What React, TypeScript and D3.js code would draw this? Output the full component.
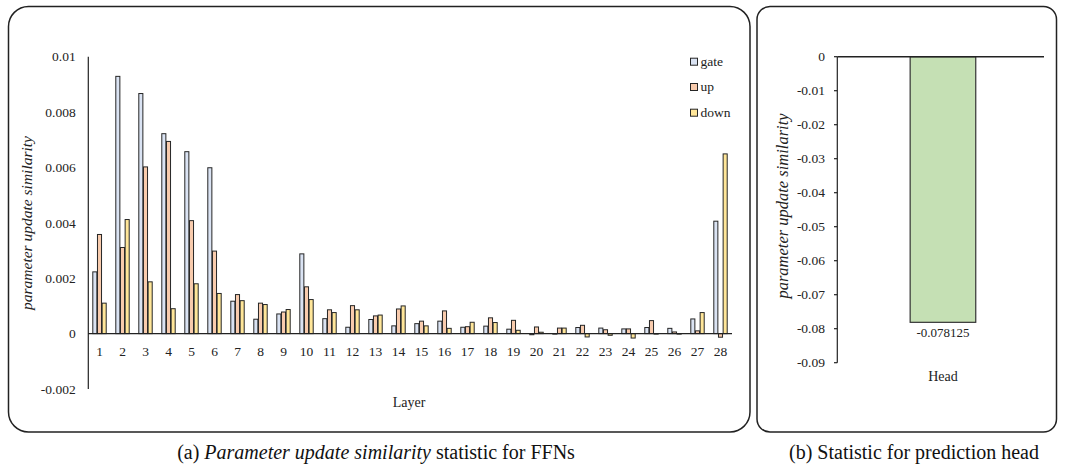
import React from "react";
import * as d3 from "d3";

const layers = Array.from({ length: 28 }, (_, i) => String(i + 1));
const gate = [0.00223, 0.00929, 0.00867, 0.00722, 0.00657, 0.00599, 0.00117, 0.00052, 0.00071, 0.00288, 0.00054, 0.00023, 0.00051, 0.00028, 0.00036, 0.00045, 0.00023, 0.00027, 0.00016, -0.00004, -0.00001, 0.00022, 0.0002, 0.00017, 0.00022, 0.00019, 0.00053, 0.00406];
const up = [0.00358, 0.00311, 0.00602, 0.00694, 0.00408, 0.00298, 0.00141, 0.0011, 0.00078, 0.00169, 0.00086, 0.00101, 0.00064, 0.00089, 0.00045, 0.00082, 0.00025, 0.00057, 0.00048, 0.00024, 0.0002, 0.0003, 0.00014, 0.00017, 0.00047, 0.00006, 0.0001, -0.00013];
const down = [0.0011, 0.00412, 0.00187, 0.0009, 0.0018, 0.00145, 0.00119, 0.00105, 0.00087, 0.00123, 0.00076, 0.00086, 0.00067, 0.001, 0.00028, 0.00019, 0.00041, 0.0004, 0.00012, 0.00005, 0.0002, -0.00012, -0.00006, -0.00016, -0.00001, -0.00001, 0.00076, 0.00649];
const seriesNames = ["gate", "up", "down"];
const seriesColors = ["#dae3f3", "#f8cbad", "#ffe699"];
const leftTicks = [-0.002, 0, 0.002, 0.004, 0.006, 0.008, 0.01];

const headCategory = ["Head"];
const headValue = [-0.078125];
const rightTicks = [0, -0.01, -0.02, -0.03, -0.04, -0.05, -0.06, -0.07, -0.08, -0.09];

const FONT = "Liberation Serif";

export default function App() {
  const series = [gate, up, down];
  const x = d3.scaleBand<string>().domain(layers).range([88, 732]).padding(0);
  const inner = d3.scaleBand<string>().domain(seriesNames).range([-7, 7]).padding(0);
  const y = d3.scaleLinear().domain([-0.002, 0.01]).range([389, 56.7]);

  const xr = d3.scaleBand<string>().domain(headCategory).range([837.3, 1044]).paddingInner(0).paddingOuter(0);
  const yr = d3.scaleLinear().domain([-0.09, 0]).range([362.7, 56.7]);
  const barW = 65.6;

  const fmtL = (v: number) => (v === 0 ? "0" : String(+v.toFixed(3)));
  const fmtR = (v: number) => (v === 0 ? "0" : String(+v.toFixed(2)));

  return (
    <svg width={1068} height={468} fontFamily={FONT} style={{ position: "absolute", left: 0, top: 0 }}>
      <rect x={0} y={0} width={1068} height={468} fill="#fff" />
      {/* panel borders */}
      <rect x={8.5} y={6.5} width={741.5} height={425.5} rx={20} ry={20} fill="none" stroke="#222" strokeWidth={1.5} />
      <rect x={757} y={6.5} width={299.5} height={425.5} rx={13} ry={13} fill="none" stroke="#222" strokeWidth={1.5} />

      {/* left chart */}
      <g>
        {leftTicks.map((t) => (
          <text key={t} x={75.7} y={y(t)} dy="0.35em" textAnchor="end" fontSize={13.5} fill="#222" fontFamily={FONT}>
            {fmtL(t)}
          </text>
        ))}
        {layers.map((l, i) => (
          <g key={l}>
            {series.map((s, j) => {
              const v = s[i];
              const x0 = (x(l) as number) + x.bandwidth() / 2 + (inner(seriesNames[j]) as number);
              const y0 = Math.min(y(v), y(0));
              const h = Math.abs(y(v) - y(0));
              return (
                <rect key={j} x={x0 + 0.3} y={y0} width={inner.bandwidth() - 0.6} height={Math.max(h, 0.5)} fill={seriesColors[j]} stroke="#262626" strokeWidth={1} />
              );
            })}
            <text x={(x(l) as number) + x.bandwidth() / 2} y={351} dy="0.35em" textAnchor="middle" fontSize={13.5} fill="#222" fontFamily={FONT}>
              {l}
            </text>
          </g>
        ))}
        <line x1={88} x2={732} y1={y(0)} y2={y(0)} stroke="#222" strokeWidth={1.2} />
        <line x1={88.3} x2={88.3} y1={y(0.01)} y2={y(-0.002)} stroke="#222" strokeWidth={1.2} />
        <text transform={`translate(32,223) rotate(-90)`} textAnchor="middle" fontSize={15.5} fontStyle="italic" fill="#222" fontFamily={FONT}>
          parameter update similarity
        </text>
        <text x={409} y={402} dy="0.35em" textAnchor="middle" fontSize={14} fill="#222" fontFamily={FONT}>
          Layer
        </text>
        {seriesNames.map((n, j) => (
          <g key={n}>
            <rect x={690.5} y={[61.7, 87, 112.7][j] - 3.5} width={7} height={7} fill={seriesColors[j]} stroke="#262626" strokeWidth={1} />
            <text x={700.5} y={[61.7, 87, 112.7][j]} dy="0.32em" fontSize={13.5} fill="#222" fontFamily={FONT}>
              {n}
            </text>
          </g>
        ))}
      </g>

      {/* right chart */}
      <g>
        {rightTicks.map((t) => (
          <g key={t}>
            <line x1={834} x2={837.3} y1={yr(t)} y2={yr(t)} stroke="#222" strokeWidth={1.2} />
            <text x={825} y={yr(t)} dy="0.35em" textAnchor="end" fontSize={13.5} fill="#222" fontFamily={FONT}>
              {fmtR(t)}
            </text>
          </g>
        ))}
        {headCategory.map((c, i) => {
          const cx = (xr(c) as number) + xr.bandwidth() / 2 + 2.3;
          return (
            <g key={c}>
              <rect x={cx - barW / 2} y={yr(0)} width={barW} height={yr(headValue[i]) - yr(0)} fill="#c5e0b4" stroke="#333" strokeWidth={1.2} />
              <text x={cx} y={yr(headValue[i]) + 10.5} dy="0.35em" textAnchor="middle" fontSize={13} fill="#222" fontFamily={FONT}>
                {String(headValue[i])}
              </text>
              <text x={cx} y={376} dy="0.35em" textAnchor="middle" fontSize={14} fill="#222" fontFamily={FONT}>
                {c}
              </text>
            </g>
          );
        })}
        <line x1={837.3} x2={1044} y1={yr(0)} y2={yr(0)} stroke="#222" strokeWidth={1.5} />
        <line x1={837.3} x2={837.3} y1={yr(0)} y2={yr(-0.09)} stroke="#222" strokeWidth={1.2} />
        <text transform={`translate(788,206) rotate(-90)`} textAnchor="middle" fontSize={16.5} fontStyle="italic" fill="#222" fontFamily={FONT}>
          parameter update similarity
        </text>
      </g>

      {/* captions */}
      <text x={376} y={459} textAnchor="middle" fontSize={20} fill="#111" fontFamily={FONT}>
        (a) <tspan fontStyle="italic">Parameter update similarity</tspan> statistic for FFNs
      </text>
      <text x={914} y={459} textAnchor="middle" fontSize={20} fill="#111" fontFamily={FONT}>
        (b) Statistic for prediction head
      </text>
    </svg>
  );
}
